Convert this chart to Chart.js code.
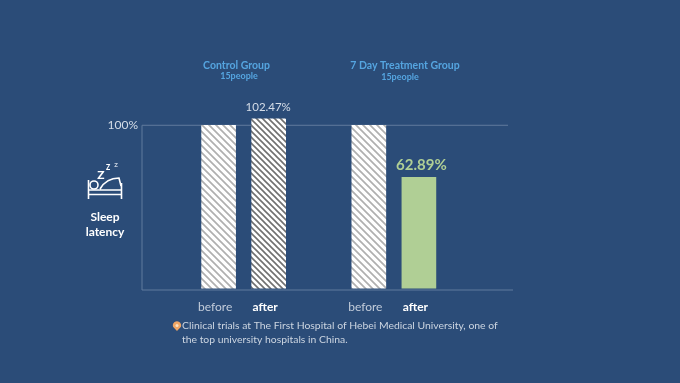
<!DOCTYPE html>
<html>
<head>
<meta charset="utf-8">
<style>
  html, body { margin: 0; padding: 0; background: #2b4c78; }
  #wrap { width: 680px; height: 383px; position: relative; }
</style>
<script src="https://cdn.jsdelivr.net/npm/chart.js@4"></script>
</head>
<body>
<div id="wrap"><canvas id="sleepChart" width="680" height="383"></canvas></div>
<script>
// blank slots keep the two groups apart on the category axis
const categories = ['', 'before', 'after', '', 'before', 'after', ''];
// bar heights as drawn in the picture (they do not follow the printed percentages exactly)
const barValues = [null, 100, 104, null, 100, 68, null];
const barLabels = ['', '', '102.47%', '', '', '62.89%', ''];
const yTicks = [100];
const groupNames = ['Control Group', '7 Day Treatment Group'];
const groupSizes = ['15people', '15people'];
const sideLabel = ['Sleep', 'latency'];
const noteLines = [
  'Clinical trials at The First Hospital of Hebei Medical University, one of',
  'the top university hospitals in China.'
];

const FONT = 'Lato, "Open Sans", sans-serif';
const LINE = '#617b9d';

function hatch(color, size, width) {
  const c = document.createElement('canvas');
  c.width = size;
  c.height = size;
  const g = c.getContext('2d');
  g.fillStyle = '#ffffff';
  g.fillRect(0, 0, size, size);
  g.strokeStyle = color;
  g.lineWidth = width;
  g.beginPath();
  g.moveTo(-1, -1); g.lineTo(size + 1, size + 1);
  g.moveTo(-1, size - 1); g.lineTo(1, size + 1);
  g.moveTo(size - 1, -1); g.lineTo(size + 1, 1);
  g.stroke();
  return g.createPattern(c, 'repeat');
}

const ctx = document.getElementById('sleepChart').getContext('2d');
const lightHatch = hatch('#b0b0b0', 7, 1.7);
const darkHatch = hatch('#707070', 6, 1.6);
const barColors = [null, lightHatch, darkHatch, null, lightHatch, '#b0cf95', null];

function drawText(g, text, x, y, font, color, align) {
  g.font = font;
  g.fillStyle = color;
  g.textAlign = align || 'center';
  g.textBaseline = 'middle';
  g.fillText(text, x, y);
}

function drawBed(g) {
  g.save();
  g.strokeStyle = '#ffffff';
  g.lineWidth = 1.6;
  g.beginPath();
  // frame
  g.moveTo(88.5, 180); g.lineTo(88.5, 199);
  g.moveTo(121.5, 183); g.lineTo(121.5, 199);
  g.moveTo(88.5, 194.5); g.lineTo(121.5, 194.5);
  g.moveTo(88.5, 190); g.lineTo(121.5, 190);
  g.moveTo(100, 189);
  g.bezierCurveTo(104, 182, 110, 178, 119, 178);
  g.lineTo(121, 186);
  g.stroke();
  g.beginPath();
  g.arc(94, 185, 4, 0, Math.PI * 2);
  g.stroke();
  g.restore();
  drawText(g, 'Z', 101, 175, '900 12px ' + FONT, '#ffffff');
  drawText(g, 'Z', 108, 168, '900 7px ' + FONT, '#ffffff');
  drawText(g, 'Z', 116, 165, '900 6px ' + FONT, '#c9d3e0');
}

function drawPin(g) {
  g.save();
  g.fillStyle = '#efa565';
  g.beginPath();
  g.arc(177, 325.5, 4.2, Math.PI * 0.9, Math.PI * 0.1);
  g.lineTo(177, 331);
  g.closePath();
  g.fill();
  g.fillStyle = '#f8e2c4';
  g.beginPath();
  g.arc(177, 325.5, 1.5, 0, Math.PI * 2);
  g.fill();
  g.restore();
}

const decorations = {
  id: 'decorations',
  beforeDatasetsDraw(chart) {
    const g = chart.ctx;
    const y = chart.scales.y;
    g.save();
    g.strokeStyle = LINE;
    g.lineWidth = 1;
    g.beginPath();
    g.moveTo(142, y.getPixelForValue(yTicks[0]));
    g.lineTo(508, y.getPixelForValue(yTicks[0]));
    g.moveTo(142, chart.chartArea.bottom);
    g.lineTo(513, chart.chartArea.bottom);
    g.moveTo(142, y.getPixelForValue(yTicks[0]));
    g.lineTo(142, chart.chartArea.bottom);
    g.stroke();
    g.restore();
  },
  afterDatasetsDraw(chart) {
    const g = chart.ctx;
    const bars = chart.getDatasetMeta(0).data;
    g.save();
    barLabels.forEach((label, i) => {
      if (!label) return;
      const big = i === 5;
      drawText(g, label, bars[i].x + (big ? 2.5 : -0.5), bars[i].y - (big ? 12 : 11),
        big ? 'bold 15px ' + FONT : '11.5px ' + FONT, big ? '#b0cf95' : '#d5dde8');
    });
    const blue = '#55a5e0';
    drawText(g, groupNames[0], 236.5, 66, 'bold 10.5px ' + FONT, blue);
    drawText(g, groupSizes[0], 239, 76, 'bold 9px ' + FONT, blue);
    drawText(g, groupNames[1], 405, 66, 'bold 10.5px ' + FONT, blue);
    drawText(g, groupSizes[1], 400, 77.5, 'bold 9px ' + FONT, blue);
    drawText(g, sideLabel[0], 105, 217, 'bold 12px ' + FONT, '#ffffff');
    drawText(g, sideLabel[1], 105, 232, 'bold 12px ' + FONT, '#ffffff');
    drawBed(g);
    drawPin(g);
    drawText(g, noteLines[0], 182, 326, '10.4px ' + FONT, '#ccd5e1', 'left');
    drawText(g, noteLines[1], 182, 340, '10.4px ' + FONT, '#ccd5e1', 'left');
    g.restore();
  }
};

new Chart(ctx, {
  type: 'bar',
  data: {
    labels: categories,
    datasets: [{
      data: barValues,
      backgroundColor: barColors,
      barThickness: 34
    }]
  },
  options: {
    responsive: false,
    animation: false,
    layout: { padding: { top: 109, right: 186, bottom: 0, left: 0 } },
    plugins: { legend: { display: false }, tooltip: { enabled: false } },
    scales: {
      x: {
        grid: { display: false, drawTicks: false },
        border: { display: false },
        afterFit(scale) { scale.height = 93; },
        ticks: {
          autoSkip: false,
          maxRotation: 0,
          padding: 10,
          labelOffset: -3.5,
          color(c) { return c.index % 3 === 2 ? '#ffffff' : '#c3cddb'; },
          font(c) {
            return c.index % 3 === 2
              ? { family: FONT, size: 12, weight: 'bold' }
              : { family: FONT, size: 12 };
          }
        }
      },
      y: {
        min: -1.2,
        max: 110,
        grid: { display: false, drawTicks: false },
        border: { display: false },
        afterFit(scale) { scale.width = 143.5; },
        afterBuildTicks(scale) { scale.ticks = yTicks.map(v => ({ value: v })); },
        ticks: {
          color: '#d5dde8',
          padding: 5.5,
          font: { family: FONT, size: 12 },
          callback(v) { return v + '%'; }
        }
      }
    }
  },
  plugins: [decorations]
});
</script>
</body>
</html>
